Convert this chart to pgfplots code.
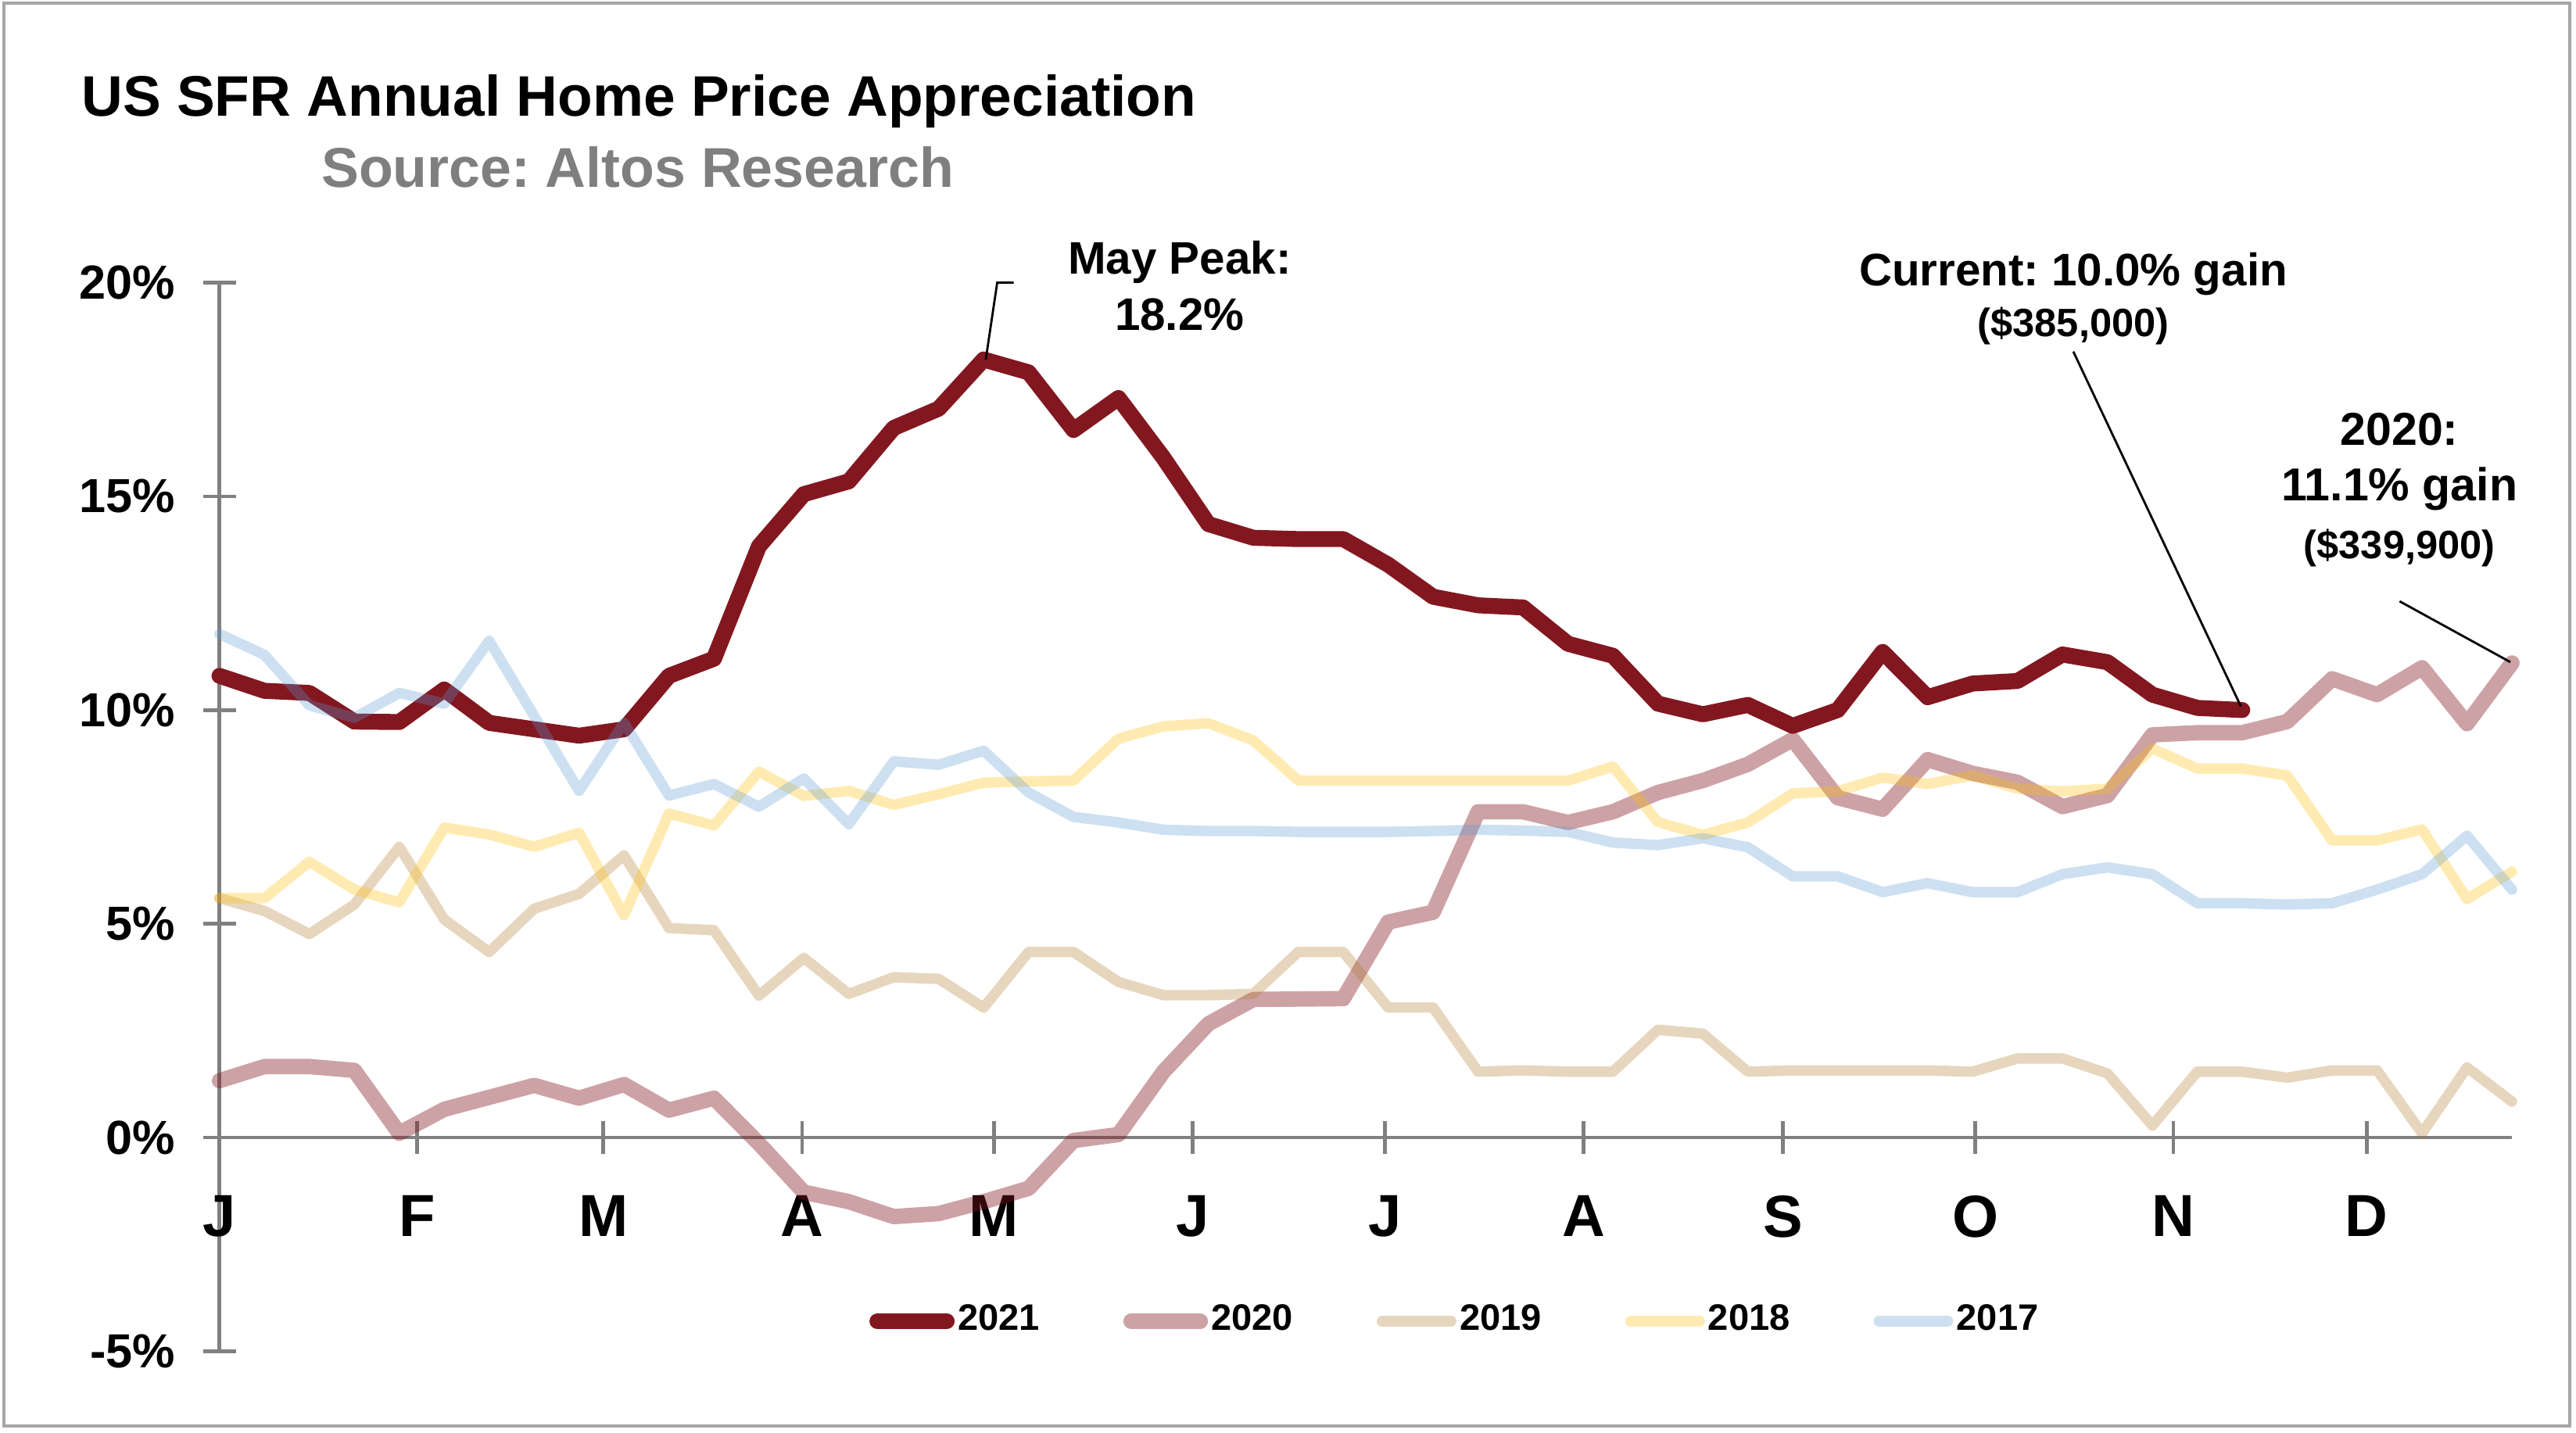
\documentclass[border=0pt]{standalone}
\usepackage{fontspec}
\setmainfont{Liberation Sans}
\usepackage{pgfplots}
\pgfplotsset{compat=1.18}
\definecolor{c21}{HTML}{831720}
\definecolor{c19}{RGB}{178,122,42}
\definecolor{c18}{HTML}{FFC000}
\definecolor{c17}{HTML}{5B9BD5}
\definecolor{axgray}{HTML}{808080}
\definecolor{subgray}{HTML}{7F7F7F}
\def\px{0.10507mm}

\pgfplotstableread{
x y
0 10.8
1 10.45
2 10.4
3 9.73
4 9.72
5 10.48
6 9.7
7 9.55
8 9.4
9 9.55
10 10.8
11 11.2
12 13.83
13 15.05
14 15.35
15 16.6
16 17.05
17 18.2
18 17.9
19 16.55
20 17.3
21 15.9
22 14.35
23 14.03
24 14.0
25 14.0
26 13.4
27 12.65
28 12.45
29 12.4
30 11.55
31 11.27
32 10.15
33 9.9
34 10.12
35 9.63
36 10.0
37 11.36
38 10.3
39 10.62
40 10.68
41 11.3
42 11.12
43 10.36
44 10.05
45 10.0
}\dataA

\pgfplotstableread{
x y
0 1.33
1 1.66
2 1.66
3 1.57
4 0.1
5 0.66
6 0.94
7 1.22
8 0.92
9 1.24
10 0.64
11 0.92
12 -0.14
13 -1.28
14 -1.5
15 -1.85
16 -1.78
17 -1.5
18 -1.19
19 -0.07
20 0.07
21 1.54
22 2.66
23 3.23
24 3.24
25 3.25
26 5.04
27 5.27
28 7.62
29 7.62
30 7.37
31 7.62
32 8.07
33 8.35
34 8.73
35 9.31
36 7.95
37 7.68
38 8.84
39 8.52
40 8.31
41 7.74
42 8.0
43 9.42
44 9.47
45 9.47
46 9.73
47 10.73
48 10.36
49 10.99
50 9.68
51 11.1
}\dataB

\pgfplotstableread{
x y
0 5.6
1 5.3
2 4.76
3 5.45
4 6.8
5 5.1
6 4.34
7 5.35
8 5.7
9 6.6
10 4.9
11 4.85
12 3.32
13 4.2
14 3.36
15 3.75
16 3.71
17 3.04
18 4.34
19 4.34
20 3.64
21 3.33
22 3.33
23 3.36
24 4.34
25 4.34
26 3.04
27 3.04
28 1.54
29 1.57
30 1.54
31 1.54
32 2.52
33 2.43
34 1.54
35 1.57
36 1.57
37 1.57
38 1.57
39 1.54
40 1.85
41 1.85
42 1.5
43 0.28
44 1.54
45 1.54
46 1.4
47 1.57
48 1.57
49 0.1
50 1.64
51 0.84
}\dataC

\pgfplotstableread{
x y
0 5.6
1 5.6
2 6.45
3 5.8
4 5.5
5 7.25
6 7.09
7 6.8
8 7.13
9 5.2
10 7.58
11 7.3
12 8.56
13 7.99
14 8.11
15 7.78
16 8.03
17 8.3
18 8.33
19 8.35
20 9.33
21 9.62
22 9.69
23 9.29
24 8.35
25 8.35
26 8.35
27 8.35
28 8.35
29 8.35
30 8.35
31 8.68
32 7.38
33 7.08
34 7.37
35 8.05
36 8.1
37 8.42
38 8.27
39 8.47
40 8.16
41 8.1
42 8.16
43 9.1
44 8.63
45 8.63
46 8.47
47 6.95
48 6.95
49 7.21
50 5.58
51 6.22
}\dataD

\pgfplotstableread{
x y
0 11.78
1 11.29
2 10.11
3 9.82
4 10.4
5 10.15
6 11.62
7 9.86
8 8.11
9 9.7
10 8.0
11 8.27
12 7.74
13 8.4
14 7.33
15 8.8
16 8.72
17 9.05
18 8.07
19 7.5
20 7.37
21 7.2
22 7.17
23 7.17
24 7.15
25 7.15
26 7.15
27 7.17
28 7.2
29 7.18
30 7.15
31 6.9
32 6.84
33 7.0
34 6.79
35 6.11
36 6.11
37 5.74
38 5.95
39 5.74
40 5.74
41 6.16
42 6.32
43 6.16
44 5.48
45 5.48
46 5.45
47 5.48
48 5.8
49 6.16
50 7.06
51 5.8
}\dataE

\begin{document}
\frenchspacing
\begin{tikzpicture}
\begin{scope}[x=\px,y=-\px]
\path[use as bounding box] (0,0) rectangle (1568,872);
\fill[white] (0,0) rectangle (1568,872);
\draw[color=black!35, line width=0.6pt] (2.5,2) rectangle (1564,868);
\node[anchor=base west, inner sep=0pt, font=\bfseries\fontsize{10.4}{12}\selectfont] at (49,70.6) {US SFR Annual Home Price Appreciation};
\node[anchor=base west, inner sep=0pt, text=subgray, font=\bfseries\fontsize{10.2}{12}\selectfont] at (195,114.2) {Source: Altos Research};
\end{scope}

\begin{axis}[
  at={(133.6*\px,-822.5*\px)}, anchor=south west,
  scale only axis, width=1395.4*\px, height=650.5*\px,
  xmin=0, xmax=51, ymin=-5, ymax=20,
  axis x line=middle, axis y line=left,
  axis line style={draw=axgray, line width=0.65pt, -},
  hide obscured x ticks=false, hide obscured y ticks=false,
  xtick={0,4.40,8.54,12.96,17.23,21.65,25.93,30.35,34.78,39.06,43.47,47.77},
  xticklabels={J,F,M,A,M,J,J,A,S,O,N,D},
  ytick={-5,0,5,10,15,20},
  yticklabels={-5\%,0\%,5\%,10\%,15\%,20\%},
  tick align=center, major tick length=6pt,
  tick style={draw=axgray, line width=0.65pt},
  xticklabel style={font=\bfseries\fontsize{10.8}{12}\selectfont, yshift=-4pt},
  yticklabel style={font=\bfseries\fontsize{8.7}{10}\selectfont, xshift=-1.5pt},
  clip=false,
  legend style={at={(axis cs:27.5,-4.3)}, anchor=center, draw=none, fill=none,
    legend columns=5, font=\bfseries\fontsize{6.7}{8}\selectfont,
    /tikz/every even column/.append style={column sep=14.6pt},
    nodes={inner xsep=0.6pt, inner ysep=1pt}},
  legend image code/.code={\draw[#1, line cap=round] (0pt,0pt) -- (12.6pt,0pt);},
]
\addplot[c21, line width=2.9pt, line join=round, line cap=round] table {\dataA};
\addlegendentry{2021}
\addplot[c21, opacity=0.4, line width=2.8pt, line join=round, line cap=round] table {\dataB};
\addlegendentry{2020}
\addplot[c19, opacity=0.3, line width=1.9pt, line join=round, line cap=round] table {\dataC};
\addlegendentry{2019}
\addplot[c18, opacity=0.3, line width=1.9pt, line join=round, line cap=round] table {\dataD};
\addlegendentry{2018}
\addplot[c17, opacity=0.3, line width=1.9pt, line join=round, line cap=round] table {\dataE};
\addlegendentry{2017}
\end{axis}

\begin{scope}[x=\px,y=-\px]
\draw[black, line width=0.4pt] (600,219) -- (607,172) -- (617,172);
\draw[black, line width=0.4pt] (1262,214) -- (1364,430);
\draw[black, line width=0.4pt] (1460.6,366) -- (1528,403);
\node[anchor=base, inner sep=0pt, font=\bfseries\fontsize{8.3}{10}\selectfont] at (718,167) {May Peak:};
\node[anchor=base, inner sep=0pt, font=\bfseries\fontsize{8.3}{10}\selectfont] at (718,201) {18.2\%};
\node[anchor=base, inner sep=0pt, font=\bfseries\fontsize{8.3}{10}\selectfont] at (1262,174) {Current: 10.0\% gain};
\node[anchor=base, inner sep=0pt, font=\bfseries\fontsize{7.2}{9}\selectfont] at (1262,205) {(\$385,000)};
\node[anchor=base, inner sep=0pt, font=\bfseries\fontsize{8.4}{10}\selectfont] at (1460.5,271) {2020:};
\node[anchor=base, inner sep=0pt, font=\bfseries\fontsize{8.4}{10}\selectfont] at (1460.5,305) {11.1\% gain};
\node[anchor=base, inner sep=0pt, font=\bfseries\fontsize{7.2}{9}\selectfont] at (1460.5,340) {(\$339,900)};
\end{scope}
\end{tikzpicture}
\end{document}
